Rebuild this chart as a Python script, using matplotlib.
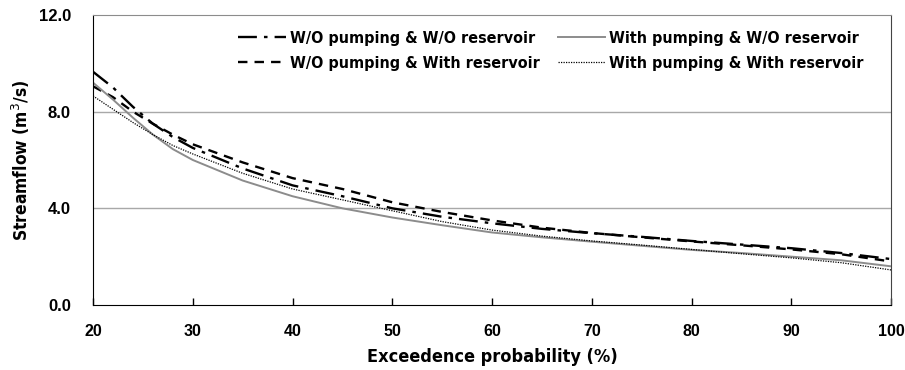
import os
from matplotlib import pyplot as plt
from matplotlib import font_manager

# exceedence probability (%)
prob = [20, 22, 24, 26, 28, 30, 35, 40, 45, 50, 55, 60, 65, 70, 75, 80, 85, 90, 95, 100]

# streamflow (m3/s)
noPumpNoRes = [9.65, 9.0, 8.2, 7.5, 6.95, 6.5, 5.65, 4.95, 4.5, 4.0, 3.65, 3.38, 3.15, 2.97, 2.82, 2.65, 2.5, 2.35, 2.15, 1.9]
noPumpRes = [9.05, 8.6, 8.0, 7.5, 7.05, 6.65, 5.9, 5.25, 4.8, 4.25, 3.85, 3.5, 3.2, 2.98, 2.8, 2.63, 2.47, 2.3, 2.1, 1.8]
pumpNoRes = [9.2, 8.5, 7.75, 7.05, 6.45, 6.0, 5.15, 4.5, 4.0, 3.62, 3.3, 3.0, 2.8, 2.62, 2.45, 2.28, 2.15, 2.0, 1.85, 1.6]
pumpRes = [8.65, 8.1, 7.55, 7.05, 6.6, 6.25, 5.45, 4.8, 4.35, 3.9, 3.45, 3.1, 2.85, 2.65, 2.48, 2.3, 2.12, 1.95, 1.75, 1.45]

labels = ['W/O pumping & W/O reservoir', 'W/O pumping & With reservoir',
          'With pumping & W/O reservoir', 'With pumping & With reservoir']

xTicks = [20, 30, 40, 50, 60, 70, 80, 90, 100]
yTicks = [0.0, 4.0, 8.0, 12.0]

# look for a narrow bold font file, fall back to the default
narrowFile = None
for f in font_manager.findSystemFonts():
    base = os.path.basename(f)
    if base in ('LiberationSansNarrow-Bold.ttf', 'DejaVuSansCondensed-Bold.ttf'):
        narrowFile = f
        if base.startswith('Liberation'):
            break

def narrowFont(size):
    if narrowFile:
        return font_manager.FontProperties(fname=narrowFile, size=size)
    return font_manager.FontProperties(weight='bold', stretch='condensed', size=size * 0.9)

tickFont = ['Liberation Sans', 'DejaVu Sans']

fig = plt.figure(figsize=(9.05, 3.7), dpi=100)
ax = fig.add_axes([0.1028, 0.1757, 0.8818, 0.7838])

ax.plot(prob, noPumpNoRes, color='black', linewidth=1.7, linestyle=(0, (8, 3, 1.5, 3)), label=labels[0])
ax.plot(prob, noPumpRes, color='black', linewidth=1.7, linestyle=(0, (4, 3)), label=labels[1])
ax.plot(prob, pumpNoRes, color='#8c8c8c', linewidth=1.4, linestyle='-', label=labels[2])
ax.plot(prob, pumpRes, color='black', linewidth=0.9, linestyle=(0, (1, 1)), label=labels[3])

ax.set_xlim(20, 100)
ax.set_ylim(0, 12)
ax.set_xticks(xTicks)
ax.set_yticks(yTicks)
ax.set_yticklabels(['%.1f' % v for v in yTicks])
for y in [4.0, 8.0]:
    ax.axhline(y, color='#a8a8a8', linewidth=1.0, zorder=0)

ax.tick_params(axis='x', direction='in', length=5, width=1, pad=14, labelsize=11.5)
ax.tick_params(axis='y', length=0, pad=16, labelsize=12)
for lab in ax.get_xticklabels() + ax.get_yticklabels():
    lab.set_fontweight('bold')
    lab.set_family(tickFont)

ax.spines['top'].set_color('#8c8c8c')
ax.spines['right'].set_color('#444444')
ax.spines['left'].set_color('black')
ax.spines['bottom'].set_color('black')

ax.set_xlabel('Exceedence probability (%)', fontproperties=narrowFont(13), labelpad=6)
ax.set_ylabel('Streamflow (m$^3$/s)', fontproperties=narrowFont(12.5))
ax.yaxis.set_label_coords(-0.076, 0.5)

leg = ax.legend(ncol=2, loc='upper right', frameon=False, handlelength=3.0, handletextpad=0.25,
                columnspacing=1.1, labelspacing=0.6, borderpad=0.5, bbox_to_anchor=(0.986, 1.0),
                prop=narrowFont(11.5))

fig.savefig('out.png', dpi=100)
